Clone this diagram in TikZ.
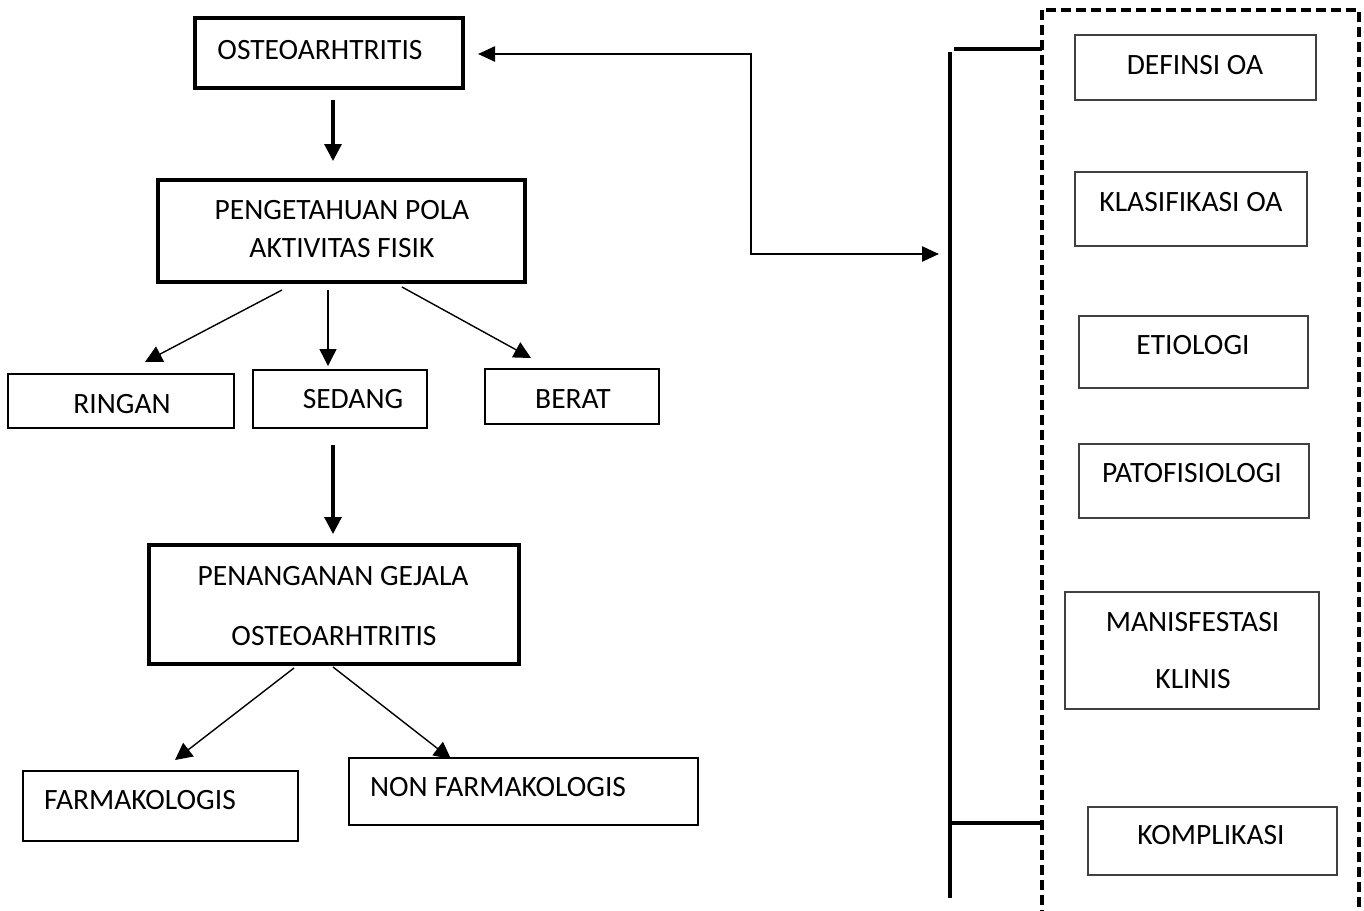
\documentclass[tikz,border=0pt]{standalone}
\usepackage{fontspec}
\setmainfont{Carlito}
\usetikzlibrary{arrows.meta}
\begin{document}
\begin{tikzpicture}[x=1pt,y=-1pt,
  thickbox/.style={draw=black,line width=3.6pt,inner sep=0pt},
  thinbox/.style={draw=black,line width=1.5pt,inner sep=0pt},
  rbox/.style={draw=black!75,line width=1.6pt,inner sep=0pt},
  lbl/.style={inner sep=0pt,font=\fontsize{29.5}{34}\selectfont},
  thickarr/.style={line width=3.2pt,-{Triangle[length=17pt,width=17pt]}},
  thinarr/.style={line width=1.4pt,-{Triangle[length=17pt,width=17pt]}},
  conn/.style={line width=2.4pt,{Triangle[length=17pt,width=15pt]}-{Triangle[length=17pt,width=15pt]}},
  bar/.style={line width=3.8pt},
  dashbox/.style={line width=4pt,dash pattern=on 10pt off 5pt}
]
\useasboundingbox (0,0) rectangle (1364,910);
\clip (0,0) rectangle (1364,910);
\fill[white] (0,0) rectangle (1364,910);

% left boxes
\node[thickbox,minimum width=268pt,minimum height=70pt] (osteo) at (329,53) {};
\node[lbl] (osteoT) at (320,50) {OSTEOARHTRITIS};
\node[thickbox,minimum width=367pt,minimum height=102pt] (peng) at (341.5,231) {};
\node[lbl] (pengT1) at (342,210) {PENGETAHUAN POLA};
\node[lbl] (pengT2) at (342,248) {AKTIVITAS FISIK};
\node[thinbox,minimum width=226pt,minimum height=54pt] (ringan) at (121,401) {};
\node[lbl] (ringanT) at (122,404) {RINGAN};
\node[thinbox,minimum width=174pt,minimum height=58pt] (sedang) at (340,399) {};
\node[lbl] (sedangT) at (353,399) {SEDANG};
\node[thinbox,minimum width=174pt,minimum height=55pt] (berat) at (572,396.5) {};
\node[lbl] (beratT) at (573,399) {BERAT};
\node[thickbox,minimum width=370pt,minimum height=119pt] (penang) at (334,604.5) {};
\node[lbl] (penangT1) at (333,576) {PENANGANAN GEJALA};
\node[lbl] (penangT2) at (334,636) {OSTEOARHTRITIS};
\node[thinbox,minimum width=275pt,minimum height=70pt] (farm) at (160.5,806) {};
\node[lbl] (farmT) at (140,800) {FARMAKOLOGIS};
\node[thinbox,minimum width=349pt,minimum height=67pt] (nonfarm) at (523.5,791.5) {};
\node[lbl] (nonfarmT) at (498,787) {NON FARMAKOLOGIS};

% right boxes
\node[rbox,minimum width=241pt,minimum height=65pt] (def) at (1195.5,67.5) {};
\node[lbl] (defT) at (1195,65) {DEFINSI OA};
\node[rbox,minimum width=232pt,minimum height=74pt] (klas) at (1191,209) {};
\node[lbl] (klasT) at (1191,202) {KLASIFIKASI OA};
\node[rbox,minimum width=229pt,minimum height=72pt] (etio) at (1193.5,352) {};
\node[lbl] (etioT) at (1193,345) {ETIOLOGI};
\node[rbox,minimum width=230pt,minimum height=74pt] (pato) at (1194,481) {};
\node[lbl] (patoT) at (1192,473) {PATOFISIOLOGI};
\node[rbox,minimum width=254pt,minimum height=117pt] (mani) at (1192,650.5) {};
\node[lbl] (maniT1) at (1192.5,622) {MANISFESTASI};
\node[lbl] (maniT2) at (1193,679) {KLINIS};
\node[rbox,minimum width=249pt,minimum height=68pt] (komp) at (1212.5,841) {};
\node[lbl] (kompT) at (1211,835) {KOMPLIKASI};

% arrow end coordinates
\coordinate (a1s) at (333,100); \coordinate (a1e) at (333,161);
\coordinate (a2s) at (282,290); \coordinate (a2e) at (145,362);
\coordinate (a3s) at (328,290); \coordinate (a3e) at (328,366);
\coordinate (a4s) at (402,287); \coordinate (a4e) at (531,358);
\coordinate (a5s) at (333,445); \coordinate (a5e) at (333,534);
\coordinate (a6s) at (294,668); \coordinate (a6e) at (175,760);
\coordinate (a7s) at (333,667); \coordinate (a7e) at (451,759);

\draw[thickarr] (a1s) -- (a1e);
\draw[thinarr] (a2s) -- (a2e);
\draw[thinarr] (a3s) -- (a3e);
\draw[thinarr] (a4s) -- (a4e);
\draw[thickarr] (a5s) -- (a5e);
\draw[thinarr] (a6s) -- (a6e);
\draw[thinarr] (a7s) -- (a7e);

% connector to right bracket
\coordinate (cL) at (478,54);
\coordinate (cR) at (939,254);
\coordinate (k1) at (751,54);
\coordinate (k2) at (751,254);
\draw[conn] (cL) -- (k1) -- (k2) -- (cR);

% bracket
\coordinate (bTop) at (950,52);
\coordinate (bBot) at (950,898);
\coordinate (hTopL) at (954,49);
\coordinate (hTopR) at (1042,49);
\coordinate (hBotL) at (950,823);
\coordinate (hBotR) at (1042,823);
\draw[bar] (bTop) -- (bBot);
\draw[bar] (hTopL) -- (hTopR);
\draw[bar] (hBotL) -- (hBotR);

% dashed frame
\coordinate (dTL) at (1042,10);
\coordinate (dBR) at (1359,930);
\draw[dashbox] (dTL) rectangle (dBR);
\end{tikzpicture}
\end{document}
